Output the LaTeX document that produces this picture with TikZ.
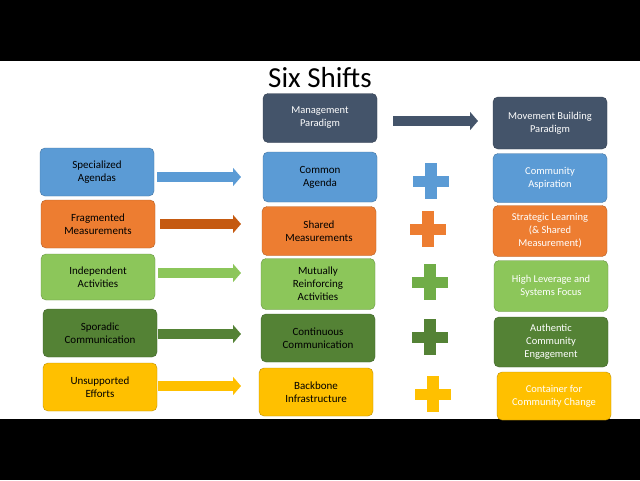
\documentclass[tikz,border=0pt]{standalone}
\usepackage{fontspec}
\setmainfont{Carlito}
\usetikzlibrary{arrows.meta,positioning}
\definecolor{cblue}{HTML}{5B9BD5}
\definecolor{corange}{HTML}{ED7D31}
\definecolor{cdorange}{HTML}{C55A11}
\definecolor{clgreen}{HTML}{8CC65A}
\definecolor{cgreen}{HTML}{70AD47}
\definecolor{cdgreen}{HTML}{548235}
\definecolor{cyellow}{HTML}{FFC000}
\definecolor{cslate}{HTML}{44546A}
\tikzset{
  box/.style={draw=#1!75!black, fill=#1, rounded corners=5pt, minimum width=114pt,
    minimum height=48pt, align=center, font=\fontsize{11}{13}\selectfont, inner sep=2pt},
  wbox/.style={box=#1, text=white, font=\fontsize{10.5}{13}\selectfont},
  fat/.style={draw=#1, line width=10pt, -{Triangle[length=8pt,width=18pt]}},
  plus/.style={fill=#1}
}
\newcommand{\plussign}[3]{% x, y, colour
  \fill[#3] (#1-18,#2-5.5) rectangle (#1+18,#2+5.5);
  \fill[#3] (#1-6,#2-18) rectangle (#1+6,#2+18);}
\begin{document}
\begin{tikzpicture}[x=1pt,y=-1pt]
            \fill[black] (0,0) rectangle (640,480);
            \fill[white] (0,61) rectangle (640,419);
            \useasboundingbox (0,0) rectangle (640,480);

            \node[font=\fontsize{29}{32}\selectfont] (title) at (320,78) {Six Shifts};

            % left column
            \node[box=cblue] (spec) at (97,172) {Specialized\\Agendas};
            \node[box=corange] (frag) at (98,224) {Fragmented\\Measurements};
            \node[box=clgreen, minimum height=46pt] (indep) at (98,277) {Independent\\Activities};
            \node[box=cdgreen] (spor) at (100,333) {Sporadic\\Communication};
            \node[box=cyellow] (unsup) at (100,387) {Unsupported\\Efforts};

            % middle column
            \node[wbox=cslate, minimum height=49pt] (mgmt) at (320,118) {Management\\Paradigm};
            \node[box=cblue, minimum height=50pt] (common) at (320,177) {Common\\Agenda};
            \node[box=corange, minimum height=49pt] (shared) at (319,231) {Shared\\Measurements};
            \node[box=clgreen, minimum height=51pt] (mutual) at (318,284) {Mutually\\Reinforcing\\Activities};
            \node[box=cdgreen] (cont) at (318,338) {Continuous\\Communication};
            \node[box=cyellow] (backb) at (316,392) {Backbone\\Infrastructure};

            % right column
            \node[wbox=cslate, minimum height=52pt] (move) at (550,123) {Movement Building\\Paradigm};
            \node[wbox=cblue, minimum height=49pt] (commun) at (550,178) {Community\\Aspiration};
            \node[wbox=corange, minimum height=51pt] (strat) at (550,231) {Strategic Learning\\(\& Shared\\Measurement)};
            \node[wbox=clgreen, minimum height=51pt] (high) at (551,286) {High Leverage and\\Systems Focus};
            \node[wbox=cdgreen, minimum height=50pt] (auth) at (551,342) {Authentic\\Community\\Engagement};
            \node[wbox=cyellow, minimum height=48pt] (cont2) at (554,396) {Container for\\Community Change};

            % arrows
            \draw[fat=cslate] (393,121) -- (478,121);
            \draw[fat=cblue] (157,177) -- (241,177);
            \draw[fat=cdorange] (160,224) -- (241,224);
            \draw[fat=clgreen] (158,273) -- (241,273);
            \draw[fat=cdgreen] (158,334) -- (241,334);
            \draw[fat=cyellow] (158,386) -- (241,386);

            % plus signs
            \plussign{431}{181}{cblue}
            \plussign{428}{229}{corange}
            \plussign{430}{282}{cgreen}
            \plussign{430}{337}{cdgreen}
            \plussign{433}{394}{cyellow}
\end{tikzpicture}
\end{document}
